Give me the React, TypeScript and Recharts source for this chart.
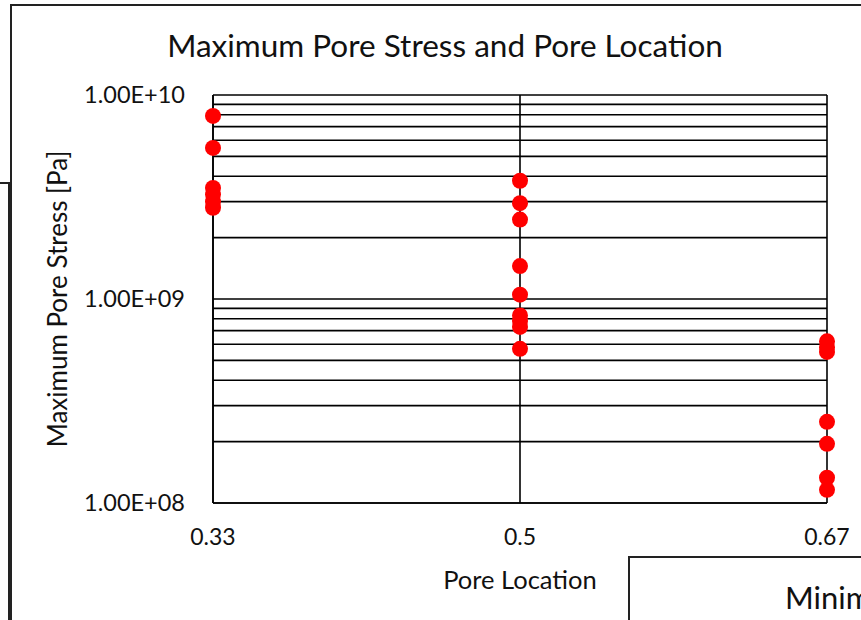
import { ScatterChart, Scatter, XAxis, YAxis, CartesianGrid, Label } from 'recharts'

// pore locations on the x axis
const locations = [0.33, 0.5, 0.67]

// maximum pore stress [Pa] measured at each location
const stressAt033 = [7.9e9, 5.5e9, 3.5e9, 3.25e9, 3.0e9, 2.8e9]
const stressAt050 = [3.8e9, 2.95e9, 2.45e9, 1.45e9, 1.05e9, 8.3e8, 7.8e8, 7.3e8, 5.7e8]
const stressAt067 = [6.2e8, 5.8e8, 5.5e8, 2.5e8, 1.95e8, 1.33e8, 1.16e8]

// log axis: every minor tick gets a grid line, only decades get a label
const yTicks = [
    1e8, 2e8, 3e8, 4e8, 5e8, 6e8, 7e8, 8e8, 9e8,
    1e9, 2e9, 3e9, 4e9, 5e9, 6e9, 7e9, 8e9, 9e9,
    1e10,
]
const yDecades = [1e8, 1e9, 1e10]
const yDecadeLabels = ['1.00E+08', '1.00E+09', '1.00E+10']

const points = [stressAt033, stressAt050, stressAt067].flatMap((values, i) =>
    values.map((stress) => ({ location: locations[i], stress }))
)

const FONT = 'Lato, "Open Sans", sans-serif'

const Dot = (props: any) => <circle cx={props.cx} cy={props.cy} r={8} fill="#ff0000" />

export default function App() {
    return (
        <div
            style={{
                position: 'absolute',
                left: 0,
                top: 0,
                width: 861,
                height: 620,
                overflow: 'hidden',
                background: '#fff',
                fontFamily: FONT,
            }}
        >
            {/* chart frame edges */}
            <div style={{ position: 'absolute', left: 11, top: 4, width: 900, height: 2, background: '#222' }} />
            <div style={{ position: 'absolute', left: 10, top: 4, width: 2, height: 640, background: '#222' }} />
            <div style={{ position: 'absolute', left: 0, top: 182, width: 10, height: 2, background: '#222' }} />
            <div style={{ position: 'absolute', left: 8, top: 182, width: 2, height: 460, background: '#222' }} />

            <div
                style={{
                    position: 'absolute',
                    left: 0,
                    top: 26,
                    width: 890,
                    textAlign: 'center',
                    fontSize: 31.5,
                    lineHeight: '38px',
                    color: '#111',
                }}
            >
                Maximum Pore Stress and Pore Location
            </div>

            <ScatterChart
                width={861}
                height={620}
                margin={{ top: 95, right: 34, bottom: 57, left: 0 }}
                style={{ position: 'absolute', left: 0, top: 0 }}
            >
                <CartesianGrid stroke="#000" strokeWidth={1.6} />
                <XAxis
                    type="number"
                    dataKey="location"
                    domain={[0.33, 0.67]}
                    ticks={locations}
                    interval={0}
                    height={60}
                    tickLine={false}
                    axisLine={{ stroke: '#000', strokeWidth: 1.6 }}
                    tickSize={0}
                    tickMargin={26}
                    tick={{ fill: '#111', fontSize: 23, fontFamily: FONT }}
                >
                    <Label
                        value="Pore Location"
                        position="insideBottom"
                        offset={-26}
                        style={{ fill: '#111', fontSize: 25.5, fontFamily: FONT }}
                    />
                </XAxis>
                <YAxis
                    type="number"
                    dataKey="stress"
                    scale="log"
                    domain={[1e8, 1e10]}
                    allowDataOverflow
                    ticks={yTicks}
                    interval={0}
                    width={213}
                    tickLine={false}
                    axisLine={{ stroke: '#000', strokeWidth: 1.6 }}
                    tickSize={0}
                    tickMargin={28}
                    tickFormatter={(v: number) => {
                        const i = yDecades.indexOf(v)
                        return i >= 0 ? yDecadeLabels[i] : ''
                    }}
                    tick={{ fill: '#111', fontSize: 23.5, fontFamily: FONT }}
                >
                    <Label
                        value="Maximum Pore Stress [Pa]"
                        angle={-90}
                        position="insideLeft"
                        offset={58}
                        style={{ fill: '#111', fontSize: 26, fontFamily: FONT, textAnchor: 'middle' }}
                    />
                </YAxis>
                <Scatter data={points} shape={Dot} isAnimationActive={false} />
            </ScatterChart>

            {/* neighbouring chart box peeking in */}
            <div
                style={{
                    position: 'absolute',
                    left: 628,
                    top: 556,
                    width: 300,
                    height: 100,
                    border: '2px solid #222',
                    background: '#fff',
                }}
            >
                <div style={{ position: 'absolute', left: 155, top: 20, fontSize: 31, color: '#111', whiteSpace: 'nowrap' }}>
                    Minimum
                </div>
            </div>
        </div>
    )
}
